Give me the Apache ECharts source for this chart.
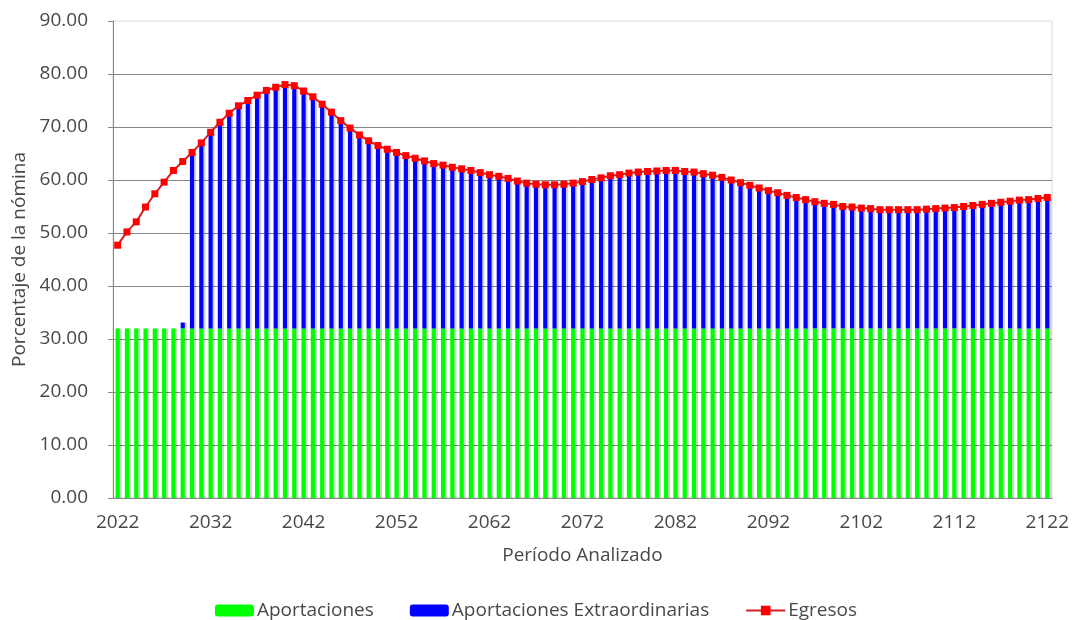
<!DOCTYPE html>
<html style="height: 100%">
<head>
    <meta charset="utf-8">
    <title>Porcentaje de la nómina</title>
</head>
<body style="height: 100%; margin: 0; background: #fff">
<div id="container" style="width:1072px;height:620px"></div>
<script type="text/javascript" src="https://cdn.jsdelivr.net/npm/echarts@6/dist/echarts.min.js"></script>
<script type="text/javascript">
// años 2022..2122
var years = [];
for (var y = 2022; y <= 2122; y++) years.push(String(y));

var aportaciones = [
    32.0, 32.0, 32.0, 32.0, 32.0, 32.0, 32.0, 32.0, 32.0, 32.0,
    32.0, 32.0, 32.0, 32.0, 32.0, 32.0, 32.0, 32.0, 32.0, 32.0,
    32.0, 32.0, 32.0, 32.0, 32.0, 32.0, 32.0, 32.0, 32.0, 32.0,
    32.0, 32.0, 32.0, 32.0, 32.0, 32.0, 32.0, 32.0, 32.0, 32.0,
    32.0, 32.0, 32.0, 32.0, 32.0, 32.0, 32.0, 32.0, 32.0, 32.0,
    32.0, 32.0, 32.0, 32.0, 32.0, 32.0, 32.0, 32.0, 32.0, 32.0,
    32.0, 32.0, 32.0, 32.0, 32.0, 32.0, 32.0, 32.0, 32.0, 32.0,
    32.0, 32.0, 32.0, 32.0, 32.0, 32.0, 32.0, 32.0, 32.0, 32.0,
    32.0, 32.0, 32.0, 32.0, 32.0, 32.0, 32.0, 32.0, 32.0, 32.0,
    32.0, 32.0, 32.0, 32.0, 32.0, 32.0, 32.0, 32.0, 32.0, 32.0,
    32.0
];

var extraordinarias = [
    0, 0, 0, 0, 0, 0, 0, 1.1, 33.2, 35.0,
    37.0, 38.9, 40.6, 42.0, 43.0, 44.0, 44.9, 45.5, 46.0, 45.8,
    44.8, 43.7, 42.3, 40.8, 39.2, 37.8, 36.5, 35.4, 34.5, 33.8,
    33.2, 32.6, 32.1, 31.6, 31.1, 30.8, 30.4, 30.1, 29.8, 29.4,
    29.0, 28.7, 28.3, 27.8, 27.4, 27.2, 27.1, 27.1, 27.2, 27.4,
    27.7, 28.1, 28.4, 28.8, 29.0, 29.3, 29.5, 29.6, 29.7, 29.8,
    29.8, 29.6, 29.5, 29.2, 28.9, 28.5, 28.0, 27.5, 27.0, 26.5,
    26.0, 25.6, 25.1, 24.7, 24.3, 23.9, 23.6, 23.4, 23.0, 22.9,
    22.7, 22.6, 22.4, 22.4, 22.4, 22.4, 22.4, 22.5, 22.6, 22.7,
    22.8, 23.0, 23.2, 23.4, 23.6, 23.8, 24.0, 24.2, 24.3, 24.5,
    24.7
];

var egresos = [
    47.7, 50.2, 52.1, 54.9, 57.4, 59.6, 61.8, 63.5, 65.2, 67.0,
    69.0, 70.9, 72.6, 74.0, 75.0, 76.0, 76.9, 77.5, 78.0, 77.8,
    76.8, 75.7, 74.3, 72.8, 71.2, 69.8, 68.5, 67.4, 66.5, 65.8,
    65.2, 64.6, 64.1, 63.6, 63.1, 62.8, 62.4, 62.1, 61.8, 61.4,
    61.0, 60.7, 60.3, 59.8, 59.4, 59.2, 59.1, 59.1, 59.2, 59.4,
    59.7, 60.1, 60.4, 60.8, 61.0, 61.3, 61.5, 61.6, 61.7, 61.8,
    61.8, 61.6, 61.5, 61.2, 60.9, 60.5, 60.0, 59.5, 59.0, 58.5,
    58.0, 57.6, 57.1, 56.7, 56.3, 55.9, 55.6, 55.4, 55.0, 54.9,
    54.7, 54.6, 54.4, 54.4, 54.4, 54.4, 54.4, 54.5, 54.6, 54.7,
    54.8, 55.0, 55.2, 55.4, 55.6, 55.8, 56.0, 56.2, 56.3, 56.5,
    56.7
];

var font = '"Open Sans", Lato, sans-serif';
var textColor = '#484848';
var axisColor = '#868686';

var myChart = echarts.init(document.getElementById('container'));
var option = {
    animation: false,
    textStyle: { fontFamily: font, color: textColor },
    grid: {
        left: 113, right: 19, top: 21, bottom: 122,
        show: true, borderColor: '#d9d9d9', borderWidth: 1
    },
    legend: {
        bottom: -5,
        left: 'center',
        itemGap: 36,
        itemWidth: 39,
        itemHeight: 12,
        textStyle: { fontFamily: font, fontSize: 19, color: textColor, padding: [0, 0, 0, -2] },
        data: ['Aportaciones', 'Aportaciones Extraordinarias', 'Egresos']
    },
    xAxis: {
        type: 'category',
        data: years,
        name: 'Período Analizado',
        nameLocation: 'middle',
        nameGap: 48,
        nameTextStyle: { fontSize: 19, color: textColor },
        axisLine: { lineStyle: { color: axisColor } },
        axisTick: { interval: 4, length: 5, lineStyle: { color: axisColor } },
        axisLabel: { interval: 9, fontSize: 19, color: textColor, margin: 15 }
    },
    yAxis: {
        type: 'value',
        min: 0, max: 90, interval: 10,
        name: 'Porcentaje de la nómina',
        nameLocation: 'middle',
        nameGap: 83,
        nameTextStyle: { fontSize: 19, color: textColor },
        axisLine: { show: true, lineStyle: { color: axisColor } },
        axisTick: { show: true, length: 5, lineStyle: { color: axisColor } },
        axisLabel: {
            fontSize: 19, color: textColor, margin: 25,
            formatter: function (v) { return v.toFixed(2); }
        },
        splitLine: { showMaxLine: false, lineStyle: { color: axisColor } }
    },
    series: [{
        name: 'Aportaciones',
        type: 'bar',
        stack: 'total',
        barWidth: '45%',
        itemStyle: { color: '#00ff00', shadowColor: 'rgba(0,0,0,0.18)', shadowOffsetX: 2 },
        data: aportaciones
    }, {
        name: 'Aportaciones Extraordinarias',
        type: 'bar',
        stack: 'total',
        barWidth: '45%',
        itemStyle: { color: '#0000ff', shadowColor: 'rgba(0,0,0,0.18)', shadowOffsetX: 2 },
        data: extraordinarias
    }, {
        name: 'Egresos',
        type: 'line',
        symbol: 'rect',
        symbolSize: 7,
        showAllSymbol: true,
        lineStyle: { color: '#d42020', width: 2 },
        itemStyle: { color: '#ff0000' },
        data: egresos
    }]
};
myChart.setOption(option);
</script>
</body>
</html>
